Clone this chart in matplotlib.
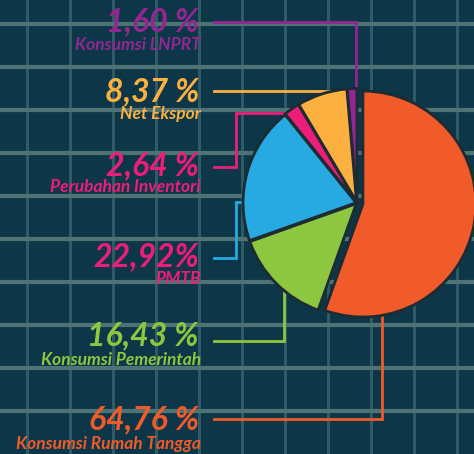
import numpy as np
import matplotlib.pyplot as plt

# ─────────────────────────────────────────
# DATA
# ─────────────────────────────────────────
categories = ["Konsumsi LNPRT", "Net Ekspor", "Perubahan Inventori",
              "PMTB", "Konsumsi Pemerintah", "Konsumsi Rumah Tangga"]
values = [1.60, 8.37, 2.64, 22.92, 16.43, 64.76]
value_labels = ["1,60 %", "8,37 %", "2,64 %", "22,92%", "16,43 %", "64,76 %"]

wedge_colors = ["#92278f", "#fbb040", "#ed1e79", "#27aae1", "#8dc63f", "#f15a29"]
text_colors = ["#92278f", "#fbb040", "#ed1e79", "#ed1e79", "#8dc63f", "#f15a29"]

# ─────────────────────────────────────────
# LAYOUT (pixel coords, y measured from top)
# ─────────────────────────────────────────
W, H = 474, 454
BG = "#0d3648"
pie_cx, pie_cy, pie_r = 357, 203, 113

# baselines of the big number and the small caption
num_base = [31, 101, 175, 266, 345, 429]
cap_base = [50, 119, 192, 284, 365, 449]

# leader paths (x, y) from text to wedge
leaders = [
    [(214, 22), (356, 22), (356, 90)],
    [(214, 91), (340, 91)],
    [(214, 167), (236, 167), (236, 113), (290, 113)],
    [(214, 258), (236, 258), (236, 202), (246, 202)],
    [(214, 341), (284, 341), (284, 292)],
    [(214, 419), (382, 419), (382, 314)],
]


def fy(y):
    # flip top-based pixel y to data y
    return H - y


fig = plt.figure(figsize=(W / 100, H / 100), dpi=100)
fig.patch.set_facecolor(BG)
ax = fig.add_axes([0, 0, 1, 1])
ax.set_facecolor(BG)

# grid pattern in the background
for gx in np.arange(27, W, 43.0):
    ax.axvline(gx, color="#2f5b64", lw=2.2, zorder=0)
for gy in np.arange(24, H, 43.0):
    ax.axhline(fy(gy), color="#4f7374", lw=3.0, zorder=0.5)

# pie explode is in data units (pixels here), not fraction of radius
explode = [1.5, 1.5, 1.5, 1.0, 1.0, 6.0]
ax.pie(values, colors=wedge_colors, startangle=90, counterclock=True,
       center=(pie_cx, fy(pie_cy)), radius=pie_r, explode=explode,
       wedgeprops=dict(edgecolor="#1d2b33", linewidth=2.0),
       frame=True)

for path, col in zip(leaders, wedge_colors):
    xs = [p[0] for p in path]
    ys = [fy(p[1]) for p in path]
    ax.plot(xs, ys, color=col, lw=2.0, zorder=0.8, solid_joinstyle="miter")

font = ["Lato", "DejaVu Sans"]
for i in range(len(values)):
    ax.text(199, fy(num_base[i]), value_labels[i], ha="right", va="baseline",
            color=text_colors[i], fontsize=23, fontweight="bold",
            fontstyle="italic", family=font, zorder=5)
    ax.text(201, fy(cap_base[i]), categories[i], ha="right", va="baseline",
            color=text_colors[i], fontsize=12.5, fontweight="bold",
            fontstyle="italic", family=font, zorder=5)

ax.set_xlim(0, W)
ax.set_ylim(0, H)
ax.set_aspect("equal")
ax.axis("off")

plt.savefig("out.png", dpi=100, facecolor=BG)
